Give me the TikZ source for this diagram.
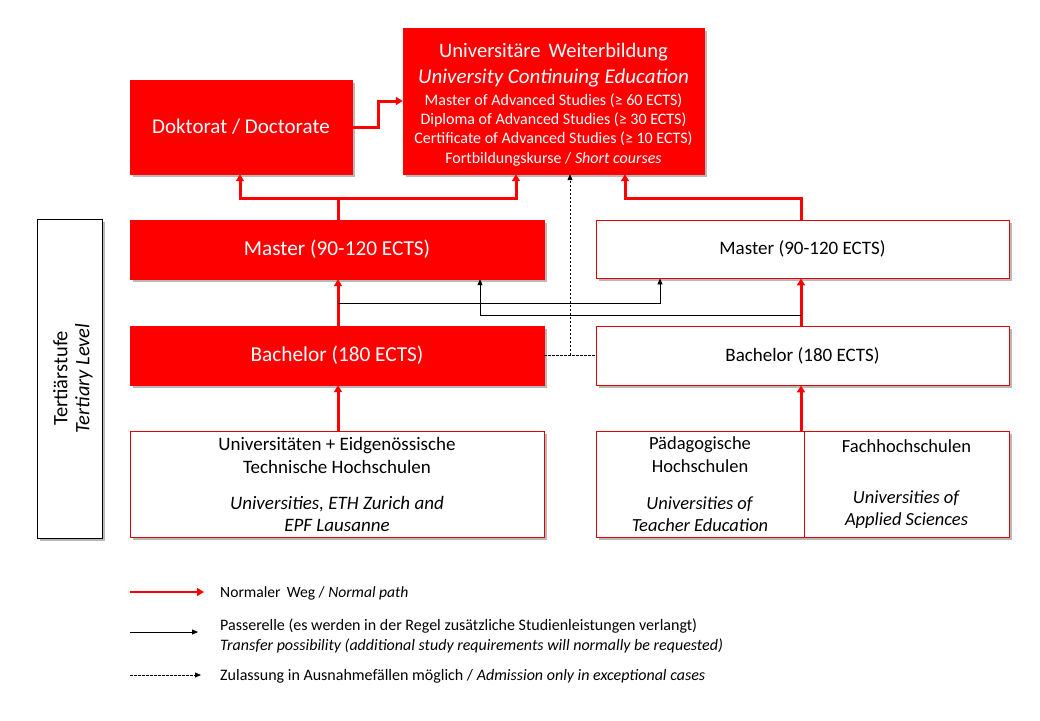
\documentclass[tikz,border=0pt]{standalone}
\usepackage{fontspec}
\setmainfont{Carlito}
\usetikzlibrary{arrows.meta,shadows,calc}
\definecolor{swred}{HTML}{FF0000}
\definecolor{swborder}{HTML}{E00000}
\newcommand{\bigf}{\fontsize{20.6}{24}\selectfont}
\newcommand{\smallf}{\fontsize{16}{24}\selectfont}
\tikzset{
  shad/.style={drop shadow={shadow xshift=3pt,shadow yshift=-3pt,fill=black,opacity=0.28}},
  redbox/.style={draw=swred,fill=swred,text=white,inner sep=0pt,align=center,shad},
  whitebox/.style={draw=swborder,line width=0.9pt,fill=white,text=black,inner sep=0pt,align=center,shad},
  tertbox/.style={draw=black,line width=0.8pt,fill=white,inner sep=0pt,shad},
  redarrow/.style={draw=swred,line width=3pt,-{Triangle[length=7pt,width=8pt]}},
  redline/.style={draw=swred,line width=3pt},
  blackarrow/.style={draw=black,line width=0.9pt,-{Triangle[length=6pt,width=5pt]}},
  dasharrow/.style={draw=black,line width=0.8pt,dash pattern=on 2.5pt off 1.5pt,-{Triangle[length=6pt,width=5pt]}},
  dashline/.style={draw=black,line width=0.8pt,dash pattern=on 2.5pt off 1.5pt},
  legtext/.style={anchor=west,inner sep=0pt,font=\fontsize{16}{20}\selectfont}
}
\begin{document}
\begin{tikzpicture}[x=1pt,y=-1pt]
\useasboundingbox (0,0) rectangle (1040,720);
% boxes
\node[redbox,minimum width=222pt,minimum height=94pt,font=\fontsize{21}{24}\selectfont] (dok) at (241,127) {Doktorat / Doctorate};
\node[redbox,minimum width=301pt,minimum height=146pt,font=\bigf] (wb) at (553.5,101)
 {\rule{0pt}{21pt}Universitäre\, Weiterbildung\\[2pt]
  \fontsize{21}{24}\selectfont\itshape University Continuing Education\\[-2pt]
  \smallf Master of Advanced Studies (≥ 60 ECTS)\\[-4.7pt]
  \smallf Diploma of Advanced Studies (≥ 30 ECTS)\\[-4.7pt]
  \smallf Certificate of Advanced Studies (≥ 10 ECTS)\\[-4.7pt]
  \smallf Fortbildungskurse / \textit{Short courses}};
\node[redbox,minimum width=414pt,minimum height=59pt,font=\fontsize{21.3}{24}\selectfont] (ml) at (337,249.5) {Master (90-120 ECTS)};
\node[whitebox,minimum width=413pt,minimum height=58pt,font=\fontsize{19}{22}\selectfont] (mr) at (802.5,249) {Master (90-120 ECTS)};
\node[redbox,minimum width=414pt,minimum height=59pt,font=\fontsize{21.3}{24}\selectfont] (bl) at (337,355.5) {Bachelor (180 ECTS)};
\node[whitebox,minimum width=413pt,minimum height=59pt,font=\fontsize{19}{22}\selectfont] (br) at (802.5,355.5) {Bachelor (180 ECTS)};
\node[whitebox,minimum width=414pt,minimum height=106pt,font=\fontsize{19}{23}\selectfont] (uni) at (337,484)
 {Universitäten + Eidgenössische\\Technische Hochschulen\\[13pt]
  \textit{Universities, ETH Zurich and}\\[-1pt]\textit{EPF Lausanne}};
\node[whitebox,minimum width=208pt,minimum height=106pt,font=\fontsize{18.5}{23}\selectfont] (ph) at (700,484)
 {Pädagogische\\Hochschulen\\[14pt]\textit{Universities of}\\[-1pt]\textit{Teacher Education}};
\node[whitebox,minimum width=205pt,minimum height=106pt,font=\fontsize{18.5}{22}\selectfont] (fh) at (906.5,484)
 {Fachhochschulen\\[29pt]\textit{Universities of}\\\textit{Applied Sciences}};
\node[tertbox,minimum width=65pt,minimum height=319pt] (tert) at (69.5,378.5) {};
\node[rotate=90,align=center,font=\fontsize{20.5}{22}\selectfont,inner sep=0pt] (terttxt) at ([xshift=3.5pt]tert.center) {Tertiärstufe\\\textit{Tertiary Level}};
% red connectors
\coordinate (j1) at (338,198);
\coordinate (j2) at (801,198);
\draw[redline] (ml.north -| j1) -- (j1);
\draw[redarrow] (j1) -| (dok.south -| 240,0);
\draw[redarrow] (j1) -| (wb.south -| 516,0);
\draw[redarrow] (mr.north -| j2) -- (j2) -| (wb.south -| 625,0);
\coordinate (d1) at (378,101);
\draw[redarrow] (dok.east) -| (d1) -- (wb.west |- d1);
\draw[redarrow] (bl.north -| j1) -- (ml.south -| j1);
\draw[redarrow] (uni.north -| j1) -- (bl.south -| j1);
\draw[redarrow] (br.north -| j2) -- (mr.south -| j2);
\draw[redarrow] (ph.north -| j2) -- (br.south -| j2);
% black transfer arrows
\coordinate (t1) at (338,303);
\coordinate (t2) at (801,315);
\draw[blackarrow] (t1) -| (mr.south -| 660,0);
\draw[blackarrow] (t2) -| (ml.south -| 480,0);
% dashed
\coordinate (dd) at (570,355);
\draw[dashline] (bl.east |- dd) -- (br.west |- dd);
\draw[dasharrow] (dd) -- (wb.south -| dd);
% legend
\coordinate (l1a) at (130,592); \coordinate (l1b) at (204,592);
\coordinate (l2a) at (130,632); \coordinate (l2b) at (198,632);
\coordinate (l3a) at (130,675); \coordinate (l3b) at (201,675);
\draw[redarrow,line width=2.5pt] (l1a) -- (l1b);
\draw[blackarrow] (l2a) -- (l2b);
\draw[dasharrow] (l3a) -- (l3b);
\node[legtext,font=\fontsize{15.6}{20}\selectfont] (lt1) at (220,593) {Normaler\, Weg / \textit{Normal path}};
\node[legtext,align=left,font=\fontsize{16}{20}\selectfont] (lt2) at (220,636) {Passerelle (es werden in der Regel zusätzliche Studienleistungen verlangt)\\\textit{Transfer possibility (additional study requirements will normally be requested)}};
\node[legtext] (lt3) at (220,676) {Zulassung in Ausnahmefällen möglich / \textit{Admission only in exceptional cases}};
\end{tikzpicture}
\end{document}
